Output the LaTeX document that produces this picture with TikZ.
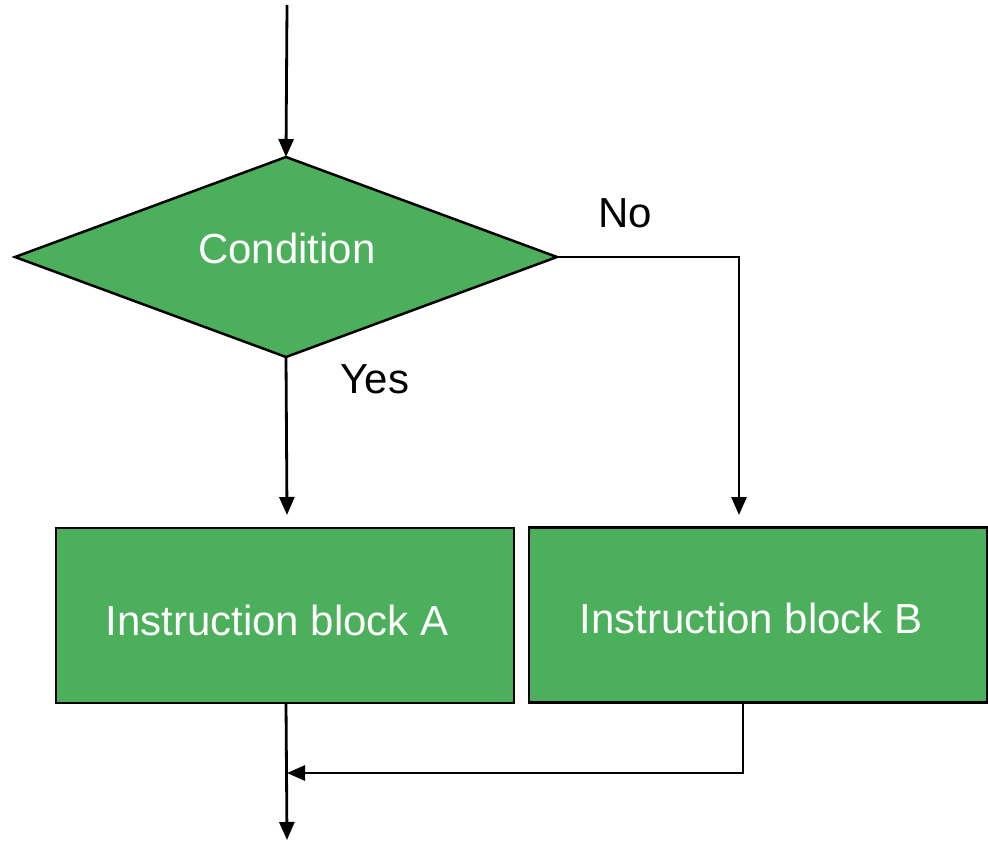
\documentclass[tikz,border=0pt]{standalone}
\usepackage{fontspec}
\setmainfont{Liberation Sans}
\usetikzlibrary{shapes.geometric,arrows.meta,calc}
\definecolor{flowgreen}{RGB}{76,175,91}
\begin{document}
\begin{tikzpicture}[x=1pt,y=-1pt,
  every node/.style={font=\fontsize{42}{48}\selectfont},
  decision/.style={diamond,draw=black,fill=flowgreen,line width=2.5pt,
    minimum width=542pt,minimum height=200pt,aspect=2.71,inner sep=0pt,
    outer sep=0pt,text=white},
  block/.style={rectangle,draw=black,fill=flowgreen,line width=2.5pt,
    minimum width=458pt,minimum height=175pt,inner sep=0pt,outer sep=0pt,
    text=white},
  flow/.style={line width=2.8pt,-{Triangle[length=18pt,width=15pt]}},
  tag/.style={text=black}]
  \useasboundingbox (0,0) rectangle (988,844);

  % shapes
  \node[decision] (cond) at (286,257) {};
  \node[text=white] (condtxt) at (287,248) {Condition};
  \node[block] (blockA) at (285,615.5) {};
  \node[text=white] (txtA) at (277,620) {Instruction block A};
  \node[block] (blockB) at (758,615) {};
  \node[text=white] (txtB) at (751,618) {Instruction block B};

  % branch labels
  \node[tag] (no) at (625,213) {No};
  \node[tag] (yes) at (375,379) {Yes};

  % free ends of the connectors
  \coordinate (entry) at (287,5);
  \coordinate (exit) at (287,840);
  \coordinate (yesend) at (287,515);
  \coordinate (noend) at (739,515);
  \coordinate (join) at (287,773);
  \coordinate (outB) at (743,703);

  % connectors
  \draw[flow] (entry) -- (cond.north);
  \draw[flow] (cond.south) -- (yesend);
  \draw[flow] (cond.east) -| (noend);
  \draw[flow] (cond.south |- blockA.south) -- (exit);
  \draw[flow] (outB) |- (join);
\end{tikzpicture}
\end{document}
